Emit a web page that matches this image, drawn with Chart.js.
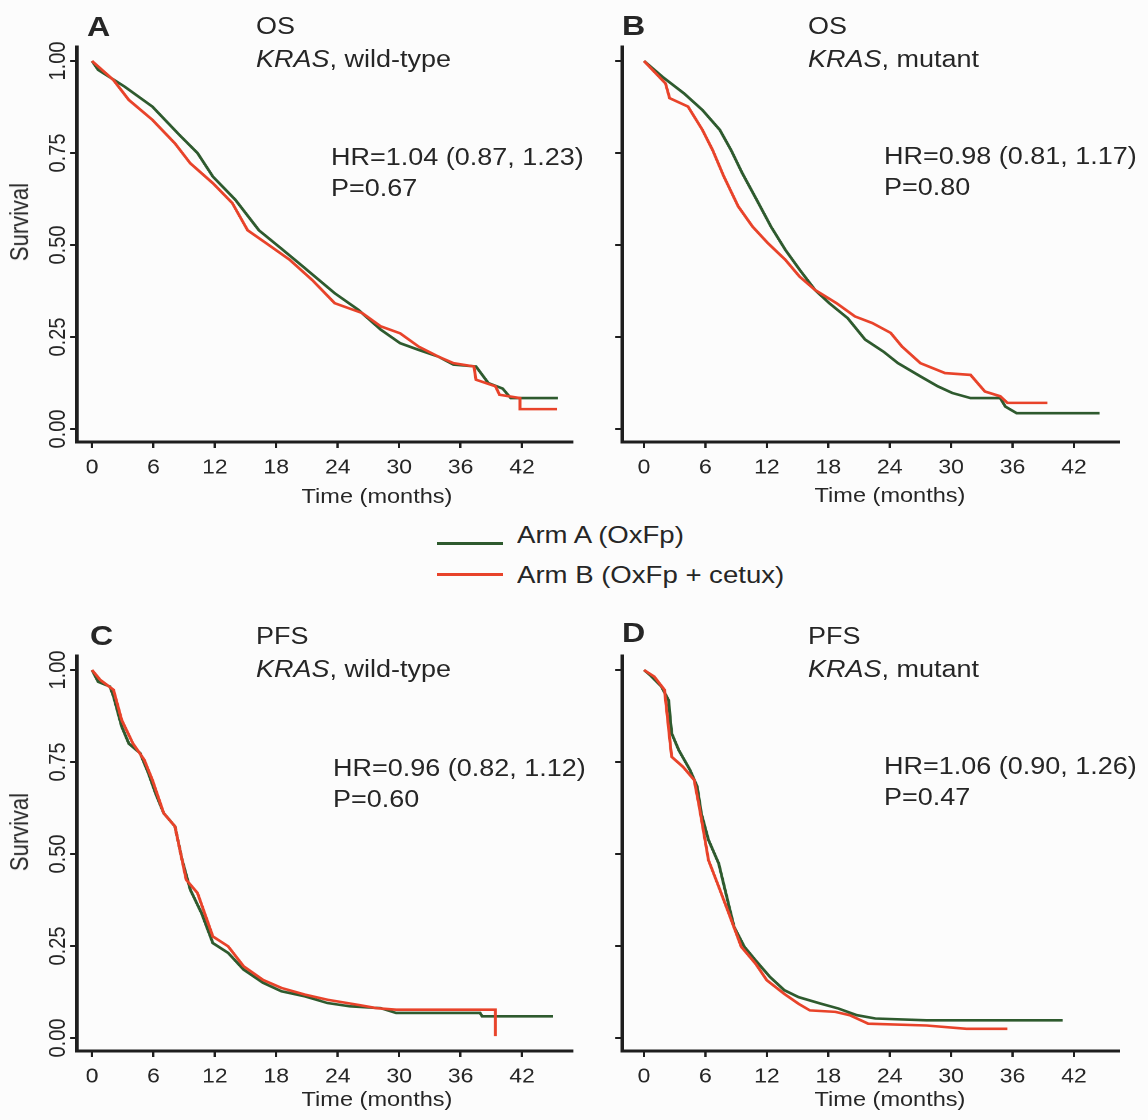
<!DOCTYPE html>
<html>
<head>
<meta charset="utf-8">
<script src="https://cdn.jsdelivr.net/npm/chart.js@4.4.0/dist/chart.umd.min.js"></script>
<style>
  html, body { margin: 0; padding: 0; background: #fcfcfc; overflow: hidden; }
  #page { position: relative; width: 1148px; height: 1120px; font-family: "Liberation Sans", Arial, sans-serif; color: #262626; }
  #page canvas { position: absolute; }
  .txt { position: absolute; white-space: nowrap; line-height: 1; transform-origin: 0 0; }
  .swatch { position: absolute; height: 3px; width: 66px; }
</style>
</head>
<body>
<div id="page"></div>
<script>
// tick labels
const timeTicks = [0, 6, 12, 18, 24, 30, 36, 42];
const survivalTicks = [0, 0.25, 0.5, 0.75, 1];
const seriesLabels = ['Arm A (OxFp)', 'Arm B (OxFp + cetux)'];

// panel texts
const panelLetters = ['A', 'B', 'C', 'D'];
const endpoints = ['OS', 'OS', 'PFS', 'PFS'];
const subgroups = ['wild-type', 'mutant', 'wild-type', 'mutant'];
const hrTexts = ['HR=1.04 (0.87, 1.23)', 'HR=0.98 (0.81, 1.17)', 'HR=0.96 (0.82, 1.12)', 'HR=1.06 (0.90, 1.26)'];
const pTexts = ['P=0.67', 'P=0.80', 'P=0.60', 'P=0.47'];

// survival curves: [months, survival]
const osWtArmA = [[0,1.000],[0.6,0.976],[3.2,0.930],[5.9,0.876],[8.5,0.800],[10.3,0.750],[11.8,0.686],[14.0,0.623],[16.3,0.540],[18.5,0.490],[20.4,0.446],[23.7,0.369],[26.0,0.324],[28.2,0.270],[30.1,0.233],[31.9,0.215],[33.8,0.197],[35.3,0.175],[37.5,0.170],[38.7,0.125],[40.1,0.110],[40.9,0.084],[45.5,0.084]];
const osWtArmB = [[0,1.000],[2.1,0.948],[3.6,0.894],[5.9,0.840],[8.1,0.776],[9.6,0.722],[11.8,0.668],[13.7,0.614],[15.2,0.540],[17.0,0.505],[19.3,0.460],[21.5,0.405],[23.7,0.342],[26.4,0.315],[28.2,0.279],[30.1,0.260],[31.9,0.224],[33.8,0.197],[35.3,0.179],[37.3,0.170],[37.5,0.134],[39.4,0.116],[39.8,0.093],[41.8,0.084],[41.8,0.054],[45.4,0.054]];
const osMtArmA = [[0,1.000],[1.8,0.957],[3.9,0.912],[5.7,0.867],[7.4,0.813],[8.5,0.758],[9.6,0.695],[11.0,0.623],[12.4,0.550],[13.8,0.487],[15.2,0.433],[16.7,0.378],[18.1,0.342],[19.9,0.301],[21.6,0.243],[23.4,0.210],[24.8,0.179],[27.0,0.143],[28.7,0.116],[30.1,0.098],[31.9,0.084],[34.8,0.084],[35.3,0.061],[36.4,0.043],[44.5,0.043]];
const osMtArmB = [[0,1.000],[2.1,0.939],[2.5,0.899],[4.3,0.876],[5.7,0.813],[6.7,0.758],[7.8,0.686],[9.2,0.605],[10.6,0.550],[12.1,0.505],[13.8,0.460],[15.2,0.414],[16.7,0.378],[18.8,0.342],[20.6,0.306],[22.3,0.288],[24.1,0.261],[25.2,0.224],[27.0,0.179],[29.4,0.152],[31.9,0.147],[33.3,0.102],[34.8,0.089],[35.5,0.071],[39.4,0.071]];
const pfsWtArmA = [[0,1.000],[0.6,0.968],[1.75,0.955],[2.1,0.928],[2.9,0.846],[3.6,0.800],[4.7,0.774],[5.5,0.720],[6.2,0.665],[7.0,0.611],[8.1,0.575],[8.8,0.484],[9.6,0.403],[10.7,0.339],[11.8,0.258],[13.3,0.231],[14.8,0.186],[16.7,0.150],[18.5,0.127],[20.8,0.113],[23.0,0.095],[25.2,0.086],[28.2,0.081],[29.7,0.068],[37.9,0.068],[38.1,0.059],[45.0,0.059]];
const pfsWtArmB = [[0,1.000],[0.8,0.973],[2.1,0.946],[2.9,0.864],[4.0,0.800],[5.1,0.756],[5.9,0.701],[7.0,0.611],[8.1,0.575],[9.2,0.430],[10.3,0.394],[11.8,0.276],[13.3,0.249],[14.8,0.195],[16.7,0.158],[18.5,0.136],[20.8,0.118],[23.0,0.104],[26.0,0.090],[27.8,0.081],[29.7,0.077],[39.4,0.077],[39.4,0.005]];
const pfsMtArmA = [[0,1.000],[0.6,0.986],[1.7,0.955],[2.4,0.918],[2.7,0.828],[3.4,0.782],[4.5,0.728],[5.2,0.683],[5.6,0.610],[6.3,0.538],[7.3,0.474],[8.0,0.393],[8.8,0.302],[9.8,0.248],[10.9,0.211],[12.3,0.166],[13.7,0.130],[15.1,0.111],[17.3,0.093],[19.0,0.080],[20.8,0.062],[22.6,0.053],[27.6,0.048],[40.9,0.048]];
const pfsMtArmB = [[0,1.000],[1.0,0.982],[2.0,0.946],[2.7,0.764],[3.8,0.737],[4.9,0.701],[5.4,0.628],[6.3,0.483],[7.3,0.411],[8.4,0.330],[9.5,0.248],[10.9,0.202],[12.0,0.157],[13.7,0.120],[15.1,0.093],[16.2,0.075],[18.7,0.071],[20.1,0.062],[21.9,0.039],[27.6,0.034],[31.5,0.025],[35.5,0.025]];

const GREEN = '#2e5a2e';
const RED = '#e8432a';
const AXIS = '#1e1e1e';
const TEXT = '#262626';
const FONT = '"Liberation Sans", Arial, sans-serif';

// the original figure is stretched sideways, so everything is drawn narrow and widened
const SX = 1.148;
const CW = 500, CH = 500;
const PLOT_TOP = 47, PLOT_BOTTOM = 442;

const page = document.getElementById('page');

const panels = [
  { left: 0,   top: 0,   plotLeft: 77,  plotRight: 572,  xMin: -1.465, xMax: 46.88, showY: true,  armA: osWtArmA,  armB: osWtArmB },
  { left: 574, top: 0,   plotLeft: 622, plotRight: 1119, xMin: -2.149, xMax: 46.40, showY: false, armA: osMtArmA,  armB: osMtArmB },
  { left: 0,   top: 609, plotLeft: 77,  plotRight: 572,  xMin: -1.465, xMax: 46.88, showY: true,  armA: pfsWtArmA, armB: pfsWtArmB },
  { left: 574, top: 609, plotLeft: 622, plotRight: 1119, xMin: -2.149, xMax: 46.40, showY: false, armA: pfsMtArmA, armB: pfsMtArmB }
];

function toPoints(arr) {
  return arr.map(([x, y]) => ({ x: x, y: y }));
}

function makeChart(p) {
  const canvas = document.createElement('canvas');
  canvas.width = CW;
  canvas.height = CH;
  canvas.style.left = p.left + 'px';
  canvas.style.top = p.top + 'px';
  canvas.style.width = (CW * SX) + 'px';
  canvas.style.height = CH + 'px';
  page.appendChild(canvas);

  const yWidth = (p.plotLeft - p.left) / SX;
  const padRight = CW - (p.plotRight - p.left) / SX;
  const grid = { drawOnChartArea: false, drawTicks: true, tickLength: 6, color: AXIS, lineWidth: 2 };
  const border = { display: true, color: AXIS, width: 3 };

  new Chart(canvas, {
    type: 'line',
    data: {
      datasets: [
        { label: seriesLabels[1], data: toPoints(p.armB), borderColor: RED, borderWidth: 2.6, pointRadius: 0, tension: 0, order: 0 },
        { label: seriesLabels[0], data: toPoints(p.armA), borderColor: GREEN, borderWidth: 2.6, pointRadius: 0, tension: 0, order: 1 }
      ]
    },
    options: {
      responsive: false,
      animation: false,
      devicePixelRatio: 2,
      layout: { padding: { left: 0, right: padRight, top: PLOT_TOP, bottom: 0 } },
      plugins: { legend: { display: false }, tooltip: { enabled: false } },
      scales: {
        x: {
          type: 'linear',
          min: p.xMin,
          max: p.xMax,
          afterBuildTicks: s => { s.ticks = timeTicks.map(v => ({ value: v })); },
          afterFit: s => { s.height = CH - PLOT_BOTTOM; },
          grid: grid,
          border: border,
          ticks: { autoSkip: false, maxRotation: 0, padding: 8, color: TEXT, font: { family: FONT, size: 20 }, callback: v => String(v) }
        },
        y: {
          type: 'linear',
          min: -0.0353,
          max: 1.038,
          afterBuildTicks: s => { s.ticks = survivalTicks.map(v => ({ value: v })); },
          afterFit: s => { s.width = yWidth; },
          grid: grid,
          border: border,
          ticks: {
            display: p.showY, autoSkip: false, minRotation: 90, maxRotation: 90, crossAlign: 'center', padding: -9.3,
            color: TEXT, font: { family: FONT, size: 20 }, callback: v => v.toFixed(2)
          }
        }
      }
    }
  });
}

// text placed by its left edge (or centre) and baseline, widened like the figure
function addText(html, x, baseline, size, opts) {
  opts = opts || {};
  const d = document.createElement('div');
  d.className = 'txt';
  d.innerHTML = html;
  d.style.fontSize = size + 'px';
  if (opts.bold) d.style.fontWeight = 'bold';
  d.style.left = x + 'px';
  d.style.top = (baseline - 0.8465 * size) + 'px';
  d.style.transform = opts.center ? 'scaleX(' + SX + ') translateX(-50%)' : 'scaleX(' + SX + ')';
  page.appendChild(d);
}

function addVertical(text, cx, cy, size) {
  const d = document.createElement('div');
  d.className = 'txt';
  d.textContent = text;
  d.style.fontSize = size + 'px';
  d.style.left = cx + 'px';
  d.style.top = cy + 'px';
  d.style.transform = 'scaleX(' + SX + ') rotate(-90deg) translate(-50%, -50%)';
  page.appendChild(d);
}

panels.forEach(makeChart);

// panel headings and statistics
const letterPos = [[87, 37], [622, 36], [90, 646], [622, 643]];
const titlePos = [[256, 35], [808, 35], [256, 645], [808, 645]];
const statPos = [[331, 166], [884, 165], [333, 777], [884, 775]];
panels.forEach((p, i) => {
  addText(panelLetters[i], letterPos[i][0], letterPos[i][1], 28, { bold: true });
  addText(endpoints[i], titlePos[i][0], titlePos[i][1], 23.5);
  addText('<i>KRAS</i>, ' + subgroups[i], titlePos[i][0], titlePos[i][1] + 33, 23.5);
  addText(hrTexts[i], statPos[i][0], statPos[i][1], 23.5);
  addText(pTexts[i], statPos[i][0], statPos[i][1] + 31, 23.5);
});

// axis titles
addVertical('Survival', 20, 222, 22);
addVertical('Survival', 20, 832, 22);
addText('Time (months)', 377, 503, 20.5, { center: true });
addText('Time (months)', 890, 502, 20.5, { center: true });
addText('Time (months)', 377, 1106, 20.5, { center: true });
addText('Time (months)', 890, 1106, 20.5, { center: true });

// shared legend
[[GREEN, 541.5, 543], [RED, 572.5, 583]].forEach(([color, lineY, base], i) => {
  const s = document.createElement('div');
  s.className = 'swatch';
  s.style.background = color;
  s.style.left = '437px';
  s.style.top = lineY + 'px';
  page.appendChild(s);
  addText(seriesLabels[i], 517, base, 24);
});
</script>
</body>
</html>
